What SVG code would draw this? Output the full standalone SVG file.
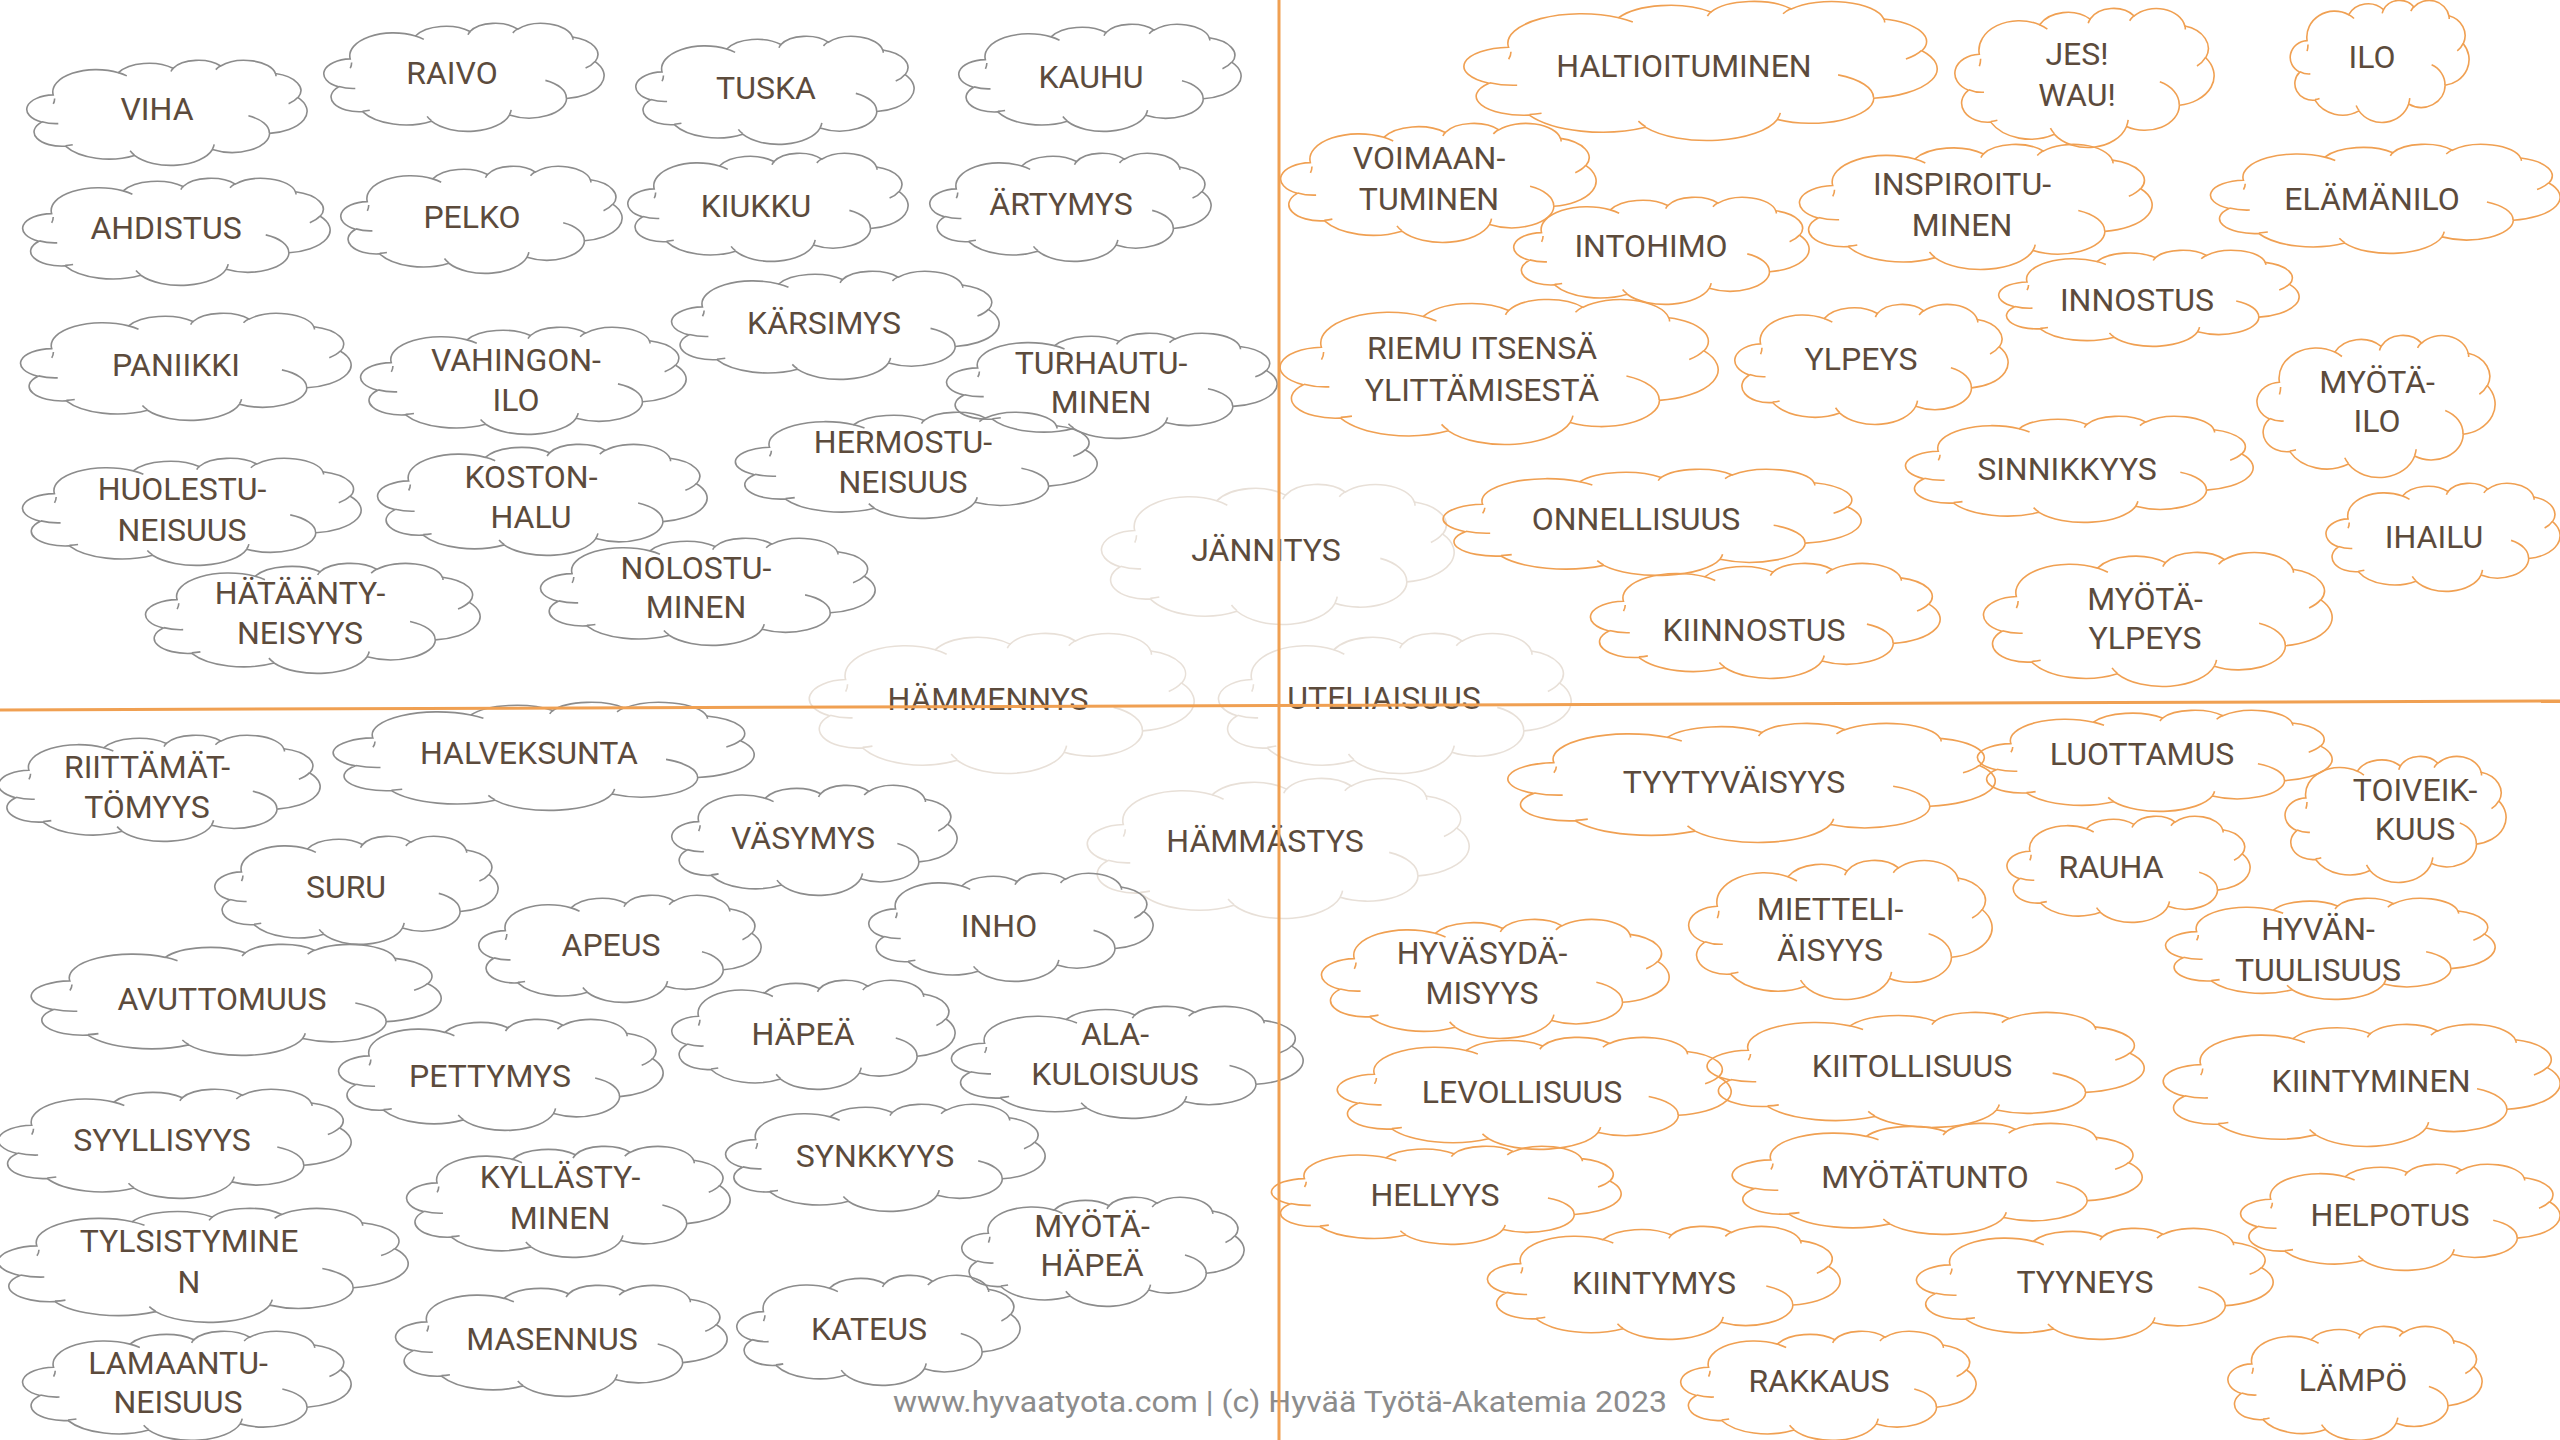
<svg xmlns="http://www.w3.org/2000/svg" xmlns:xlink="http://www.w3.org/1999/xlink" width="2560" height="1440" viewBox="0 0 2560 1440">
<style>
.c{fill:none;stroke-width:1.6}
.g{stroke:#8c8c8c}
.o{stroke:#f0a052}
.p{stroke:#e8e0d8}
text{font-family:Roboto,"Liberation Sans",sans-serif;font-size:32px;fill:#5c4b3c;text-anchor:middle}
.ft{font-size:30px;fill:#8c8c8c;text-anchor:start}
.ax{stroke:#f0a052;stroke-width:3;fill:none}
</style>
<defs>
<symbol id="cl" viewBox="0 0 100 100" preserveAspectRatio="none" overflow="visible">
<path vector-effect="non-scaling-stroke" d="M9.03,33.26 A15.63,21.27 0 0 1 32.42,12.04 A12.34,16.82 0 0 1 51.98,7.94 A10.10,13.76 0 0 1 69.06,5.74 A11.24,15.27 0 0 1 88.70,12.91 A12.34,16.84 0 0 1 96.80,35.79 A15.68,21.34 0 0 1 86.58,69.91 A13.39,18.21 0 0 1 66.10,85.22 A15.63,21.33 0 0 1 38.15,90.89 A17.87,24.41 0 0 1 13.44,82.11 A10.09,13.70 0 0 1 4.89,59.14 A10.06,13.76 0 0 1 9.03,33.26 Z"/>
<path vector-effect="non-scaling-stroke" d="M10.86,60.59 A10.06,13.76 0 0 1 5.00,58.75 M16.04,80.78 A10.09,13.70 0 0 1 13.47,81.67 M38.14,90.49 A15.63,21.33 0 0 1 36.60,86.46 M66.73,80.44 A15.63,21.33 0 0 1 66.11,84.86 M79.00,53.13 A13.39,18.21 0 0 1 86.52,69.65 M96.75,35.54 A12.34,16.84 0 0 1 93.40,41.73 M88.71,12.56 A11.24,15.27 0 0 1 88.89,15.49 M67.31,9.15 A11.24,15.27 0 0 1 69.03,5.42 M51.25,10.93 A10.10,13.76 0 0 1 52.08,7.71 M32.41,12.02 A15.63,21.27 0 0 1 35.42,15.14 M9.55,36.55 A15.63,21.27 0 0 1 9.05,41.88"/>
</symbol>
</defs>
<rect width="2560" height="1440" fill="#ffffff"/>

<!-- pale (neutral) clouds -->
<g id="jannitys"><use href="#cl" class="c p" x="1103" y="484" width="351" height="140"/><text x="1266" y="561">JÄNNITYS</text></g>
<g id="hammennys"><use href="#cl" class="c p" x="811" y="633" width="383" height="140"/><text x="988" y="710">HÄMMENNYS</text></g>
<g id="uteliaisuus"><use href="#cl" class="c p" x="1220" y="633" width="351" height="140"/><text x="1384" y="709">UTELIAISUUS</text></g>
<g id="hammastys"><use href="#cl" class="c p" x="1089" y="778" width="380" height="140"/><text x="1265" y="852">HÄMMÄSTYS</text></g>

<!-- gray top-left -->
<g id="viha"><use href="#cl" class="c g" x="28" y="60" width="279" height="105"/><text x="157" y="120">VIHA</text></g>
<g id="raivo"><use href="#cl" class="c g" x="325" y="23" width="279" height="108"/><text x="452" y="84">RAIVO</text></g>
<g id="tuska"><use href="#cl" class="c g" x="637" y="36" width="277" height="108"/><text x="766" y="99">TUSKA</text></g>
<g id="kauhu"><use href="#cl" class="c g" x="960" y="24" width="281" height="107"/><text x="1091" y="88">KAUHU</text></g>
<g id="ahdistus"><use href="#cl" class="c g" x="24" y="178" width="306" height="107"/><text x="166" y="239">AHDISTUS</text></g>
<g id="pelko"><use href="#cl" class="c g" x="342" y="166" width="280" height="107"/><text x="472" y="228">PELKO</text></g>
<g id="kiukku"><use href="#cl" class="c g" x="629" y="153" width="279" height="108"/><text x="756" y="217">KIUKKU</text></g>
<g id="artymys"><use href="#cl" class="c g" x="931" y="153" width="280" height="108"/><text x="1061" y="215">ÄRTYMYS</text></g>
<g id="paniikki"><use href="#cl" class="c g" x="22" y="313" width="329" height="107"/><text x="176" y="376">PANIIKKI</text></g>
<g id="vahingonilo"><use href="#cl" class="c g" x="362" y="327" width="324" height="107"/><text x="516" y="371">VAHINGON-</text><text x="516" y="411">ILO</text></g>
<g id="karsimys"><use href="#cl" class="c g" x="673" y="271" width="326" height="108"/><text x="824" y="334">KÄRSIMYS</text></g>
<g id="turhautuminen"><use href="#cl" class="c g" x="948" y="333" width="329" height="105"/><text x="1101" y="374">TURHAUTU-</text><text x="1101" y="413">MINEN</text></g>
<g id="hermostuneisuus"><use href="#cl" class="c g" x="737" y="412" width="360" height="106"/><text x="903" y="453">HERMOSTU-</text><text x="903" y="493">NEISUUS</text></g>
<g id="huolestuneisuus"><use href="#cl" class="c g" x="24" y="458" width="337" height="107"/><text x="182" y="500">HUOLESTU-</text><text x="182" y="541">NEISUUS</text></g>
<g id="kostonhalu"><use href="#cl" class="c g" x="379" y="444" width="328" height="111"/><text x="531" y="488">KOSTON-</text><text x="531" y="528">HALU</text></g>
<g id="nolostuminen"><use href="#cl" class="c g" x="542" y="538" width="333" height="107"/><text x="696" y="579">NOLOSTU-</text><text x="696" y="618">MINEN</text></g>
<g id="hataantyneisyys"><use href="#cl" class="c g" x="147" y="563" width="333" height="110"/><text x="300" y="604">HÄTÄÄNTY-</text><text x="300" y="644">NEISYYS</text></g>

<!-- gray bottom-left -->
<g id="riittamattomyys"><use href="#cl" class="c g" x="0" y="735" width="320" height="106"/><text x="147" y="778">RIITTÄMÄT-</text><text x="147" y="818">TÖMYYS</text></g>
<g id="halveksunta"><use href="#cl" class="c g" x="335" y="702" width="419" height="108"/><text x="529" y="764">HALVEKSUNTA</text></g>
<g id="suru"><use href="#cl" class="c g" x="216" y="836" width="282" height="108"/><text x="346" y="898">SURU</text></g>
<g id="vasymys"><use href="#cl" class="c g" x="673" y="785" width="284" height="110"/><text x="803" y="849">VÄSYMYS</text></g>
<g id="apeus"><use href="#cl" class="c g" x="480" y="895" width="281" height="107"/><text x="611" y="956">APEUS</text></g>
<g id="inho"><use href="#cl" class="c g" x="870" y="873" width="283" height="108"/><text x="999" y="937">INHO</text></g>
<g id="avuttomuus"><use href="#cl" class="c g" x="33" y="944" width="408" height="111"/><text x="222" y="1010">AVUTTOMUUS</text></g>
<g id="hapea"><use href="#cl" class="c g" x="673" y="980" width="282" height="109"/><text x="803" y="1045">HÄPEÄ</text></g>
<g id="alakuloisuus"><use href="#cl" class="c g" x="953" y="1006" width="350" height="112"/><text x="1115" y="1045">ALA-</text><text x="1115" y="1085">KULOISUUS</text></g>
<g id="pettymys"><use href="#cl" class="c g" x="340" y="1019" width="323" height="111"/><text x="490" y="1087">PETTYMYS</text></g>
<g id="syyllisyys"><use href="#cl" class="c g" x="0" y="1089" width="351" height="109"/><text x="162" y="1151">SYYLLISYYS</text></g>
<g id="synkkyys"><use href="#cl" class="c g" x="727" y="1104" width="318" height="107"/><text x="875" y="1167">SYNKKYYS</text></g>
<g id="kyllastyminen"><use href="#cl" class="c g" x="408" y="1146" width="322" height="111"/><text x="560" y="1188">KYLLÄSTY-</text><text x="560" y="1229">MINEN</text></g>
<g id="tylsistyminen"><use href="#cl" class="c g" x="0" y="1208" width="408" height="114"/><text x="189" y="1252">TYLSISTYMINE</text><text x="189" y="1293">N</text></g>
<g id="myotahapea"><use href="#cl" class="c g" x="963" y="1197" width="281" height="109"/><text x="1092" y="1237">MYÖTÄ-</text><text x="1092" y="1276">HÄPEÄ</text></g>
<g id="masennus"><use href="#cl" class="c g" x="397" y="1285" width="330" height="111"/><text x="552" y="1350">MASENNUS</text></g>
<g id="kateus"><use href="#cl" class="c g" x="738" y="1275" width="282" height="110"/><text x="869" y="1340">KATEUS</text></g>
<g id="lamaantuneisuus"><use href="#cl" class="c g" x="24" y="1331" width="327" height="109"/><text x="178" y="1374">LAMAANTU-</text><text x="178" y="1413">NEISUUS</text></g>

<!-- orange top-right -->
<g id="haltioituminen"><use href="#cl" class="c o" x="1466" y="1" width="471" height="139"/><text x="1684" y="77">HALTIOITUMINEN</text></g>
<g id="jeswau"><use href="#cl" class="c o" x="1956" y="8" width="258" height="139"/><text x="2077" y="65">JES!</text><text x="2077" y="106">WAU!</text></g>
<g id="ilo"><use href="#cl" class="c o" x="2291" y="0" width="178" height="122"/><text x="2372" y="68">ILO</text></g>
<g id="voimaantuminen"><use href="#cl" class="c o" x="1282" y="123" width="314" height="119"/><text x="1429" y="169">VOIMAAN-</text><text x="1429" y="210">TUMINEN</text></g>
<g id="intohimo"><use href="#cl" class="c o" x="1515" y="197" width="294" height="107"/><text x="1651" y="257">INTOHIMO</text></g>
<g id="inspiroituminen"><use href="#cl" class="c o" x="1801" y="144" width="351" height="125"/><text x="1962" y="195">INSPIROITU-</text><text x="1962" y="236">MINEN</text></g>
<g id="elamanilo"><use href="#cl" class="c o" x="2212" y="144" width="348" height="109"/><text x="2372" y="210">ELÄMÄNILO</text></g>
<g id="riemu"><use href="#cl" class="c o" x="1282" y="299" width="436" height="145"/><text x="1482" y="359">RIEMU ITSENSÄ</text><text x="1482" y="401">YLITTÄMISESTÄ</text></g>
<g id="ylpeys"><use href="#cl" class="c o" x="1736" y="304" width="272" height="120"/><text x="1861" y="370">YLPEYS</text></g>
<g id="innostus"><use href="#cl" class="c o" x="2000" y="250" width="299" height="96"/><text x="2137" y="311">INNOSTUS</text></g>
<g id="myotailo"><use href="#cl" class="c o" x="2258" y="335" width="237" height="142"/><text x="2377" y="393">MYÖTÄ-</text><text x="2377" y="432">ILO</text></g>
<g id="sinnikkyys"><use href="#cl" class="c o" x="1907" y="416" width="346" height="106"/><text x="2067" y="480">SINNIKKYYS</text></g>
<g id="onnellisuus"><use href="#cl" class="c o" x="1445" y="469" width="416" height="106"/><text x="1636" y="530">ONNELLISUUS</text></g>
<g id="ihailu"><use href="#cl" class="c o" x="2327" y="483" width="233" height="108"/><text x="2434" y="548">IHAILU</text></g>
<g id="kiinnostus"><use href="#cl" class="c o" x="1592" y="563" width="348" height="115"/><text x="1754" y="641">KIINNOSTUS</text></g>
<g id="myotaylpeys"><use href="#cl" class="c o" x="1985" y="552" width="347" height="134"/><text x="2145" y="610">MYÖTÄ-</text><text x="2145" y="649">YLPEYS</text></g>

<!-- orange bottom-right -->
<g id="tyytyvaisyys"><use href="#cl" class="c o" x="1510" y="723" width="485" height="119"/><text x="1734" y="793">TYYTYVÄISYYS</text></g>
<g id="luottamus"><use href="#cl" class="c o" x="1979" y="710" width="353" height="101"/><text x="2142" y="765">LUOTTAMUS</text></g>
<g id="toiveikkuus"><use href="#cl" class="c o" x="2286" y="756" width="220" height="126"/><text x="2415" y="801">TOIVEIK-</text><text x="2415" y="840">KUUS</text></g>
<g id="rauha"><use href="#cl" class="c o" x="2008" y="816" width="242" height="106"/><text x="2111" y="878">RAUHA</text></g>
<g id="mietteliaisyys"><use href="#cl" class="c o" x="1690" y="860" width="302" height="139"/><text x="1830" y="920">MIETTELI-</text><text x="1830" y="961">ÄISYYS</text></g>
<g id="hyvasydamisyys"><use href="#cl" class="c o" x="1323" y="919" width="346" height="119"/><text x="1482" y="964">HYVÄSYDÄ-</text><text x="1482" y="1004">MISYYS</text></g>
<g id="hyvantuulisuus"><use href="#cl" class="c o" x="2167" y="898" width="328" height="101"/><text x="2318" y="940">HYVÄN-</text><text x="2318" y="981">TUULISUUS</text></g>
<g id="levollisuus"><use href="#cl" class="c o" x="1339" y="1037" width="392" height="112"/><text x="1522" y="1103">LEVOLLISUUS</text></g>
<g id="kiitollisuus"><use href="#cl" class="c o" x="1709" y="1012" width="435" height="115"/><text x="1912" y="1077">KIITOLLISUUS</text></g>
<g id="kiintyminen"><use href="#cl" class="c o" x="2165" y="1024" width="395" height="122"/><text x="2371" y="1092">KIINTYMINEN</text></g>
<g id="hellyys"><use href="#cl" class="c o" x="1273" y="1146" width="348" height="98"/><text x="1435" y="1206">HELLYYS</text></g>
<g id="myotatunto"><use href="#cl" class="c o" x="1734" y="1123" width="408" height="111"/><text x="1925" y="1188">MYÖTÄTUNTO</text></g>
<g id="helpotus"><use href="#cl" class="c o" x="2242" y="1164" width="318" height="106"/><text x="2390" y="1226">HELPOTUS</text></g>
<g id="kiintymys"><use href="#cl" class="c o" x="1489" y="1226" width="351" height="113"/><text x="1654" y="1294">KIINTYMYS</text></g>
<g id="tyyneys"><use href="#cl" class="c o" x="1918" y="1228" width="355" height="111"/><text x="2085" y="1293">TYYNEYS</text></g>
<g id="rakkaus"><use href="#cl" class="c o" x="1682" y="1331" width="294" height="109"/><text x="1819" y="1392">RAKKAUS</text></g>
<g id="lampo"><use href="#cl" class="c o" x="2229" y="1326" width="253" height="114"/><text x="2353" y="1391">LÄMPÖ</text></g>

<g id="footer"><text class="ft" x="893" y="1412" textLength="774" lengthAdjust="spacingAndGlyphs">www.hyvaatyota.com | (c) Hyvää Työtä-Akatemia 2023</text></g>

<g id="connectors">
<line class="ax" x1="1279" y1="0" x2="1279" y2="1440"/>
<line class="ax" x1="0" y1="710" x2="2560" y2="701"/>
</g>
</svg>
